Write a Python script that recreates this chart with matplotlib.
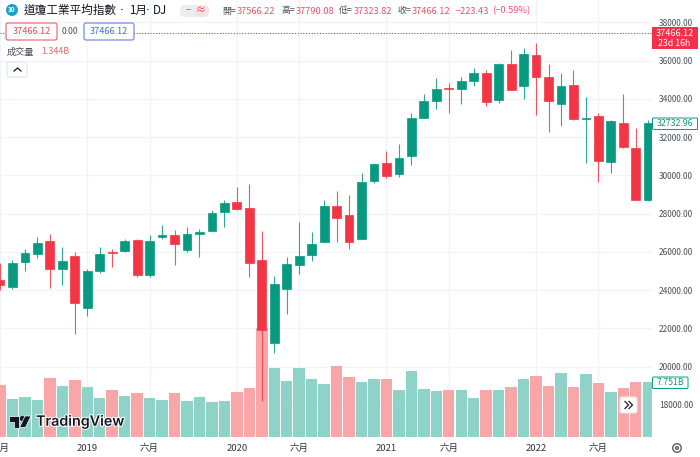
import matplotlib
matplotlib.use("Agg")
import matplotlib.pyplot as plt
import matplotlib.patheffects as pe
from matplotlib.patches import FancyBboxPatch, Circle, Rectangle, Polygon

plt.rcParams['font.family'] = ['Noto Sans CJK TC', 'DejaVu Sans']

# monthly candles, Jun 2018 to Oct 2022
opens = [24535, 24161, 25461, 25917, 26598, 25115, 25779, 23058, 24999, 26020, 26051, 26609, 24790,
         26786, 26863, 26130, 26963, 27100, 28100, 28639, 28300, 25591, 21227, 24083, 25320, 25860,
         26522, 28430, 27917, 26700, 29700, 30627, 30054, 31037, 33024, 33878, 34593, 34507, 34939,
         35361, 33938, 35833, 34678, 36321, 35132, 33759, 34750, 32960, 33128, 30688, 32763, 31455, 28725]
highs = [25402, 25587, 26139, 26770, 26951, 26277, 25980, 25135, 26241, 26155, 26696, 26679, 26907,
         27398, 27150, 27306, 27197, 28174, 28701, 29373, 29568, 27102, 24765, 25758, 27580, 27063,
         28718, 29199, 28955, 30113, 30637, 31272, 31643, 33259, 34256, 35091, 34849, 35171, 35631,
         35510, 35900, 36565, 36679, 36952, 35824, 35372, 35492, 34118, 33272, 32910, 34281, 32504, 32884]
lows = [23997, 24082, 25013, 25706, 24122, 24268, 21713, 22639, 24883, 25208, 25999, 24680, 24680,
        26660, 25339, 25978, 25743, 27100, 27324, 28170, 24681, 18213, 20735, 22780, 24843, 25523,
        26500, 26537, 26143, 26680, 29622, 29868, 29900, 30547, 33000, 33473, 33271, 33741, 34690,
        33613, 33800, 34450, 34006, 33150, 32272, 32578, 32913, 30635, 29653, 30143, 31455, 28700, 28666]
closes = [24271, 25415, 25965, 26458, 25116, 25538, 23327, 24999, 25916, 25929, 26593, 24815, 26600,
          26864, 26403, 26917, 27046, 28051, 28538, 28256, 25409, 21917, 24346, 25383, 25813, 26428,
          28430, 27782, 26502, 29639, 30606, 29983, 30932, 32982, 33875, 34529, 34503, 34935, 35361,
          33844, 35820, 34484, 36338, 35132, 33893, 34678, 32977, 32990, 30775, 32845, 31510, 28725, 32733]
volumes = [7.33, 5.34, 5.67, 5.24, 8.36, 7.23, 8.03, 7.13, 5.48, 6.62, 5.85, 6.28, 5.57, 5.24, 6.19,
           5.06, 5.67, 4.92, 5.14, 6.33, 6.99, 15.40, 9.82, 7.94, 9.73, 8.26, 7.47, 10.02, 8.46, 7.84,
           8.18, 8.18, 6.70, 9.31, 6.80, 6.48, 6.70, 6.62, 5.57, 6.62, 6.70, 7.09, 8.26, 8.69, 7.23,
           9.11, 7.13, 8.88, 7.65, 6.33, 6.90, 7.751, 7.751]

tick_months = [0, 7, 12, 19, 24, 31, 36, 43, 48]
tick_labels = ['六月', '2019', '六月', '2020', '六月', '2021', '六月', '2022', '六月']
price_ticks = list(range(18000, 38001, 2000))
last_price = 37466.12

GREEN = '#089981'
RED = '#f23645'
GREEN_V = '#8fd2c8'
RED_V = '#f8a6a8'
GRID = '#f0f3fa'
TEXT = '#4a4e58'

months = list(range(len(opens)))
colors = [GREEN if c >= o else RED for o, c in zip(opens, closes)]
vol_colors = [GREEN_V if c >= o else RED_V for o, c in zip(opens, closes)]

fig = plt.figure(figsize=(7, 4.57), dpi=100)
rect = [0, 20 / 457, 652 / 700, 437 / 457]
xlim = (0, 52.3)
ylim = (16326, 39176)

# grid and the axis labels sit at the back
bg = fig.add_axes(rect, zorder=1)
bg.set_xlim(xlim)
bg.set_ylim(ylim)
bg.set_xticks(tick_months)
bg.set_xticklabels(tick_labels, fontsize=6.8, color='#30343e')
bg.yaxis.tick_right()
bg.set_yticks(price_ticks)
bg.set_yticklabels(['%.2f' % p for p in price_ticks], fontsize=6.0, color=TEXT)
bg.tick_params(length=0, pad=5)
bg.grid(True, color=GRID, lw=0.9)
for s in bg.spines.values():
    s.set_visible(False)

vol = fig.add_axes(rect, zorder=2)
vol.patch.set_visible(False)
vol.set_xlim(xlim)
vol.set_ylim(0, 61.9)
vol.axis('off')
vol.bar(months, volumes, width=0.915, color=vol_colors)

ax = fig.add_axes(rect, zorder=3)
ax.patch.set_visible(False)
ax.set_xlim(xlim)
ax.set_ylim(ylim)
ax.axis('off')
ax.vlines(months, lows, highs, colors=colors, lw=0.8, alpha=0.85)
ax.bar(months, [c - o for o, c in zip(opens, closes)], bottom=opens, width=0.71,
       color=colors, edgecolor=colors, lw=0.5)
ax.axhline(last_price, color=RED, lw=0.8, ls=(0, (1, 1.5)))

# everything else is chart furniture, placed in pixels
ov = fig.add_axes([0, 0, 1, 1], zorder=4)
ov.patch.set_visible(False)
ov.set_xlim(0, 700)
ov.set_ylim(457, 0)
ov.axis('off')


def label(x, y, s, color=TEXT, size=6.7, ha='left', **kw):
    return ov.text(x, y, s, color=color, fontsize=size, ha=ha, va='center', **kw)


def box(x0, y0, x1, y1, edge, face='white', r=2, lw=0.8, z=3):
    ov.add_patch(FancyBboxPatch((x0 + r, y0 + r), x1 - x0 - 2 * r, y1 - y0 - 2 * r,
                                boxstyle='round,pad=%d,rounding_size=%d' % (r, r),
                                ec=edge, fc=face, lw=lw, zorder=z))


# title row
ov.add_patch(Circle((12, 10), 6, fc='#1e9fc7', ec='none'))
label(12, 10, '30', color='white', size=4.6, ha='center', fontweight='bold')
for x, s in [(23.5, '道瓊工業平均指數'), (129, '1月'), (153, 'DJ')]:
    label(x, 10.5, s, color='#131722', size=8.4)
for x in [122, 148]:
    label(x, 10.5, '·', color='#131722', size=8.4, ha='center', family=['DejaVu Sans'])
box(180, 5, 209, 17, '#ebedf1', '#ebedf1', r=5, lw=0)
ov.add_patch(Rectangle((195, 5), 9, 12, fc='#fde0e4', ec='none', zorder=3))
ov.add_patch(Circle((203, 11), 6, fc='#fde0e4', ec='none', zorder=3))
label(188.5, 10.5, '−', color='#787b86', size=7, ha='center', zorder=4)
label(201, 10.5, '≈', color=RED, size=7, ha='center', zorder=4)
for x, s in [(222, '開='), (281, '高='), (339, '低='), (397, '收=')]:
    label(x, 11, s, color='#4a4e58', size=6.4)
for x, s in [(237, '37566.22'), (295.7, '37790.08'), (354, '37323.82'), (412, '37466.12'),
             (455.7, '−223.43'), (492, '(−0.59%)')]:
    label(x, 11, s, color='#f0506a', size=6.7)

# second row
box(6, 23, 57, 40, '#ee5c68')
label(31.5, 31.5, '37466.12', color='#ee4455', size=6.6, ha='center', zorder=4)
ov.add_patch(Rectangle((58, 25), 26, 14, fc='white', ec='none'))
label(70, 31, '0.00', color=TEXT, size=6.2, ha='center')
box(84, 23, 134, 40, '#5b84e0')
label(109, 31.5, '37466.12', color='#3f6fd8', size=6.6, ha='center', zorder=4)
label(7, 52.5, '成交量', color=TEXT, size=6.6)
label(41.5, 52, '1.344B', color='#f0606c', size=6.4)
box(7, 62, 27, 77, '#e3e5ea')
ov.plot([14, 17.5, 21], [71, 68, 71], color='#131722', lw=0.9, zorder=4)

# price labels on the right
ov.add_patch(Rectangle((652, 27), 45.5, 22, fc='#f5304a', ec='none', zorder=3))
label(675, 33, '37466.12', color='white', size=6.6, ha='center', zorder=4)
label(674, 43.5, '23d 16h', color='white', size=6.3, ha='center', zorder=4)
box(652.5, 118, 697.5, 129.5, GREEN, r=1, lw=0.7)
label(675, 123.5, '32732.96', color=GREEN, size=6.3, ha='center', zorder=4)
box(652.5, 377, 688, 388.5, GREEN, r=1, lw=0.7)
label(670, 382.5, '7.751B', color=GREEN, size=6.3, ha='center', zorder=4)

# scroll button, settings icon
box(620, 397, 637, 413, '#e6e6e6')
ov.plot([625, 628.5, 625], [401.5, 405, 408.5], color='#131722', lw=0.9, zorder=4)
ov.plot([629, 632.5, 629], [401.5, 405, 408.5], color='#131722', lw=0.9, zorder=4)
ov.add_patch(Circle((677, 448), 4.3, fc='none', ec='#4a4e58', lw=0.9))
ov.add_patch(Circle((677, 448), 1.4, fc='none', ec='#4a4e58', lw=0.9))

# TradingView logo
logo = '#131722'
ov.add_patch(Polygon([(8.5, 416), (19, 416), (19, 427.5), (13.5, 427.5), (13.5, 421.5), (8.5, 421.5)], fc=logo, ec='white', lw=0.5))
ov.add_patch(Circle((22.5, 418.5), 2.6, fc=logo, ec='none'))
ov.add_patch(Polygon([(25, 416), (31, 416), (25.5, 427.5), (19.5, 427.5)], fc=logo, ec='white', lw=0.5))
label(36, 421.5, 'TradingView', color=logo, size=10.3, family=['Inter', 'DejaVu Sans'], fontweight='semibold',
      path_effects=[pe.withStroke(linewidth=1.5, foreground='white')])

fig.savefig('out.png', dpi=100)
